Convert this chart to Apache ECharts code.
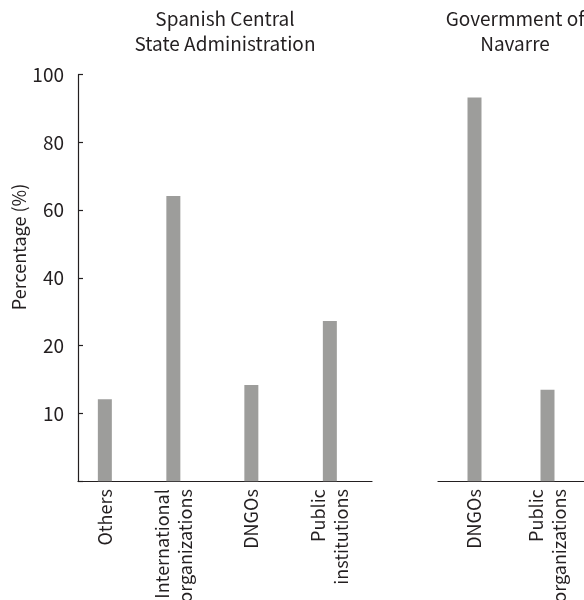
<!DOCTYPE html>
<html><head><meta charset="utf-8">
<script src="https://cdn.jsdelivr.net/npm/echarts@6/dist/echarts.min.js"></script>
<style>html,body{margin:0;padding:0;background:#fff}#c{width:584px;height:600px}</style>
</head><body><div id="c"></div>
<script>
// ---- data ----
const panelTitles = ['Spanish Central\nState Administration', 'Govermment of\nNavarre'];
const centralCategories = ['Others', 'International\norganizations', 'DNGOs', 'Public\ninstitutions'];
const centralValues = [12.1, 64.2, 14.2, 27.3];
const navarreCategories = ['DNGOs', 'Public\norganizations'];
const navarreValues = [93.3, 13.5];
const yTickValues = [0, 10, 20, 40, 60, 80, 100];
const yAxisTitle = 'Percentage (%)';

// ---- layout (px) ----
// the left panel's category bands are of unequal width in the original
const centralBandEdges = [78, 131.7, 215, 287.7, 372];
const navarreLeft = 438, navarreWidth = 146;
const gridTop = 74.7, gridHeight = 406.5;

// the original axis places its ticks evenly (0,10,20,40,...): piecewise-linear mapping
function toSlot(v) {
  for (let i = 1; i < yTickValues.length; i++) {
    if (v <= yTickValues[i]) {
      const a = yTickValues[i - 1], b = yTickValues[i];
      return (i - 1) + (v - a) / (b - a);
    }
  }
  return yTickValues.length - 1;
}

const FONT = '"Noto Sans CJK KR", "Noto Sans", sans-serif';
const TXT = '#231f20';
const BAR = '#9d9d9b';
const axisLineStyle = { color: '#231f20', width: 1.2 };
const xLabel = { rotate: 90, margin: 8, fontSize: 18, lineHeight: 23, color: TXT, fontFamily: FONT, interval: 0 };
const yMax = yTickValues.length - 1;

const grids = [], xAxes = [], yAxes = [], series = [];
function addPanel(left, width, cats, vals, showY) {
  const idx = grids.length;
  grids.push({ left: left, top: gridTop, width: width, height: gridHeight,
    containLabel: false, outerBoundsMode: 'none' });
  xAxes.push({ type: 'category', gridIndex: idx, data: cats,
    axisLine: { lineStyle: axisLineStyle },
    axisTick: { inside: true, length: 4, lineStyle: axisLineStyle, interval: 0 },
    axisLabel: xLabel });
  yAxes.push(showY ? {
      type: 'value', gridIndex: idx, min: 0, max: yMax, interval: 1,
      splitLine: { show: false },
      axisLine: { show: true, lineStyle: axisLineStyle },
      axisTick: { show: true, inside: true, length: 5, lineStyle: axisLineStyle },
      axisLabel: { margin: 14, fontSize: 19, color: TXT, fontFamily: FONT,
        formatter: v => (v === 0 ? '' : String(yTickValues[Math.round(v)])) } }
    : { type: 'value', gridIndex: idx, min: 0, max: yMax, interval: 1, show: false, splitLine: { show: false } });
  series.push({ type: 'bar', xAxisIndex: idx, yAxisIndex: idx, barWidth: 14, itemStyle: { color: BAR },
    data: vals.map(v => toSlot(v)) });
}

centralCategories.forEach((c, i) => {
  addPanel(centralBandEdges[i], centralBandEdges[i + 1] - centralBandEdges[i], [c], [centralValues[i]], i === 0);
});
addPanel(navarreLeft, navarreWidth, navarreCategories, navarreValues, false);

const chart = echarts.init(document.getElementById('c'), null, { renderer: 'canvas' });
chart.setOption({
  animation: false,
  backgroundColor: '#fff',
  grid: grids, xAxis: xAxes, yAxis: yAxes, series: series,
  graphic: [
    { type: 'text', x: (centralBandEdges[0] + centralBandEdges[centralBandEdges.length - 1]) / 2, y: 31,
      style: { text: panelTitles[0], align: 'center', verticalAlign: 'middle',
        fontSize: 19, lineHeight: 25, fontFamily: FONT, fill: TXT } },
    { type: 'text', x: 515, y: 31,
      style: { text: panelTitles[1], align: 'center', verticalAlign: 'middle',
        fontSize: 19, lineHeight: 25, fontFamily: FONT, fill: TXT } },
    { type: 'text', x: 19, y: 247, rotation: Math.PI / 2,
      style: { text: yAxisTitle, align: 'center', verticalAlign: 'middle',
        fontSize: 18, fontFamily: FONT, fill: TXT } }
  ]
});
</script></body></html>
